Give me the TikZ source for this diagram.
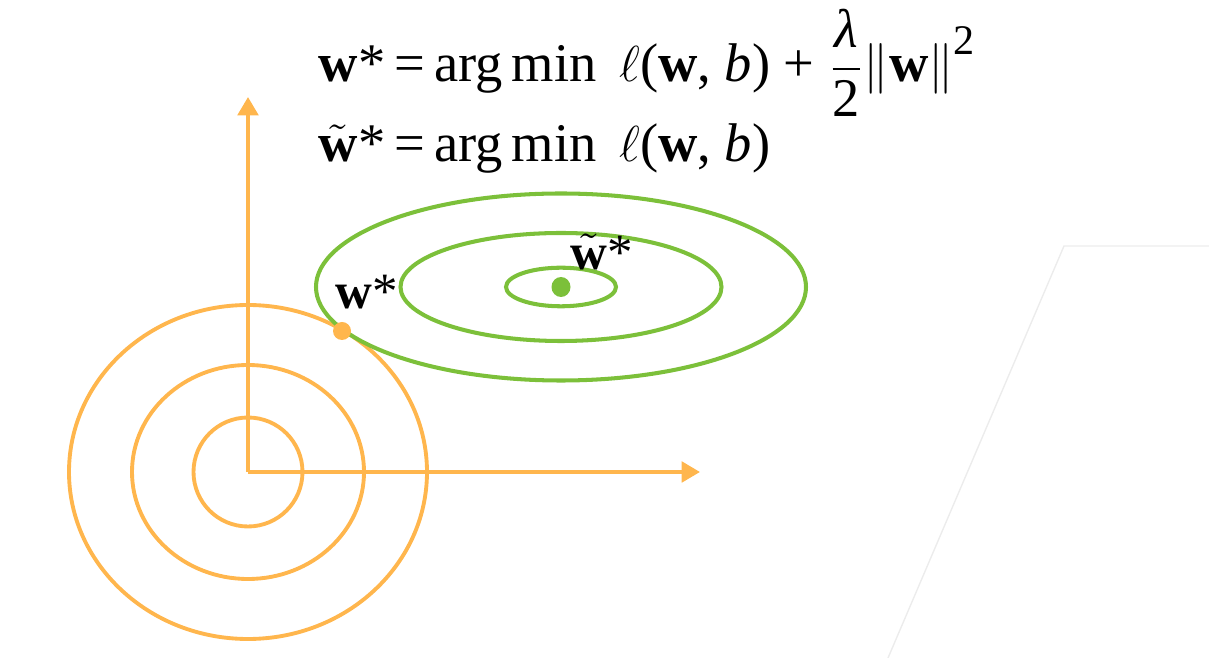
\documentclass[tikz,border=0pt]{standalone}
\usepackage{amsmath}
\usepackage{fontspec}
\setmainfont{Liberation Serif}
\usepackage{tikz}
\usetikzlibrary{arrows.meta, positioning, calc}
\definecolor{myorange}{RGB}{255,182,77}
\definecolor{mygreen}{RGB}{124,192,58}
\definecolor{myframe}{RGB}{236,236,236}
\newcommand{\optw}{\textbf{w}*}
\newcommand{\opttw}{$\tilde{\mathbf{w}}$*}
\newcommand{\lossterm}{$\ell$(\textbf{w}, \textit{b})}
\tikzset{
  axis/.style={-{Triangle[length=5.2pt, width=5.8pt]}, line width=1.1pt, color=myorange},
  ring/.style={line width=1.1pt, color=myorange},
  greenring/.style={line width=1.15pt, color=mygreen},
  formula/.style={anchor=base west, inner sep=0pt, font=\fontsize{15.5}{18}\selectfont},
  ptlabel/.style={inner sep=0pt, font=\fontsize{14.5}{17}\selectfont}
}

\begin{document}
\begin{tikzpicture}
  \useasboundingbox (0,0) rectangle (12.09,6.58);

  % Faint frame on the right
  \coordinate (frame_top) at (10.64, 4.12);
  \coordinate (frame_right) at (12.09, 4.12);
  \coordinate (frame_bottom) at (8.88, 0);
  \draw[myframe, line width=0.4pt] (frame_right) -- (frame_top) -- (frame_bottom);

  % Axes
  \coordinate (origin) at (2.48, 1.86);
  \coordinate (xend) at (7.00, 1.86);
  \coordinate (yend) at (2.48, 5.61);
  \draw[axis] (origin) -- (xend);
  \draw[axis] (origin) -- (yend);

  % Penalty contours
  \draw[ring] (origin) circle (0.545);
  \draw[ring] (origin) ellipse (1.16 and 1.07);
  \draw[ring] (origin) ellipse (1.79 and 1.67);

  % Loss contours
  \coordinate (loss_center) at (5.61, 3.71);
  \draw[greenring] (loss_center) ellipse (2.45 and 0.935);
  \draw[greenring] (loss_center) ellipse (1.605 and 0.54);
  \draw[greenring] (loss_center) ellipse (0.55 and 0.193);

  % Optimum points
  \fill[mygreen] (loss_center) ellipse (0.095 and 0.1);
  \coordinate (reg_opt) at (3.42, 3.27);
  \fill[myorange] (reg_opt) circle (0.09);

  \node[ptlabel] (reg_label) at (3.67, 3.66) {\optw};
  \node[ptlabel] (loss_label) at (6.02, 4.06) {\opttw};

  % Objectives
  \node[formula] (obj_reg) at (3.18, 5.76) {\optw\,=\,arg\,min\hspace{0.42em}\lossterm\ +\ $\dfrac{\text{\itshape λ}}{\text{2}}$$\|$\textbf{w}$\|$\raisebox{0.5em}{\fontsize{12}{12}\selectfont 2}};
  \node[formula] (obj_loss) at (3.18, 4.96) {\opttw\,=\,arg\,min\hspace{0.42em}\lossterm};
\end{tikzpicture}
\end{document}
